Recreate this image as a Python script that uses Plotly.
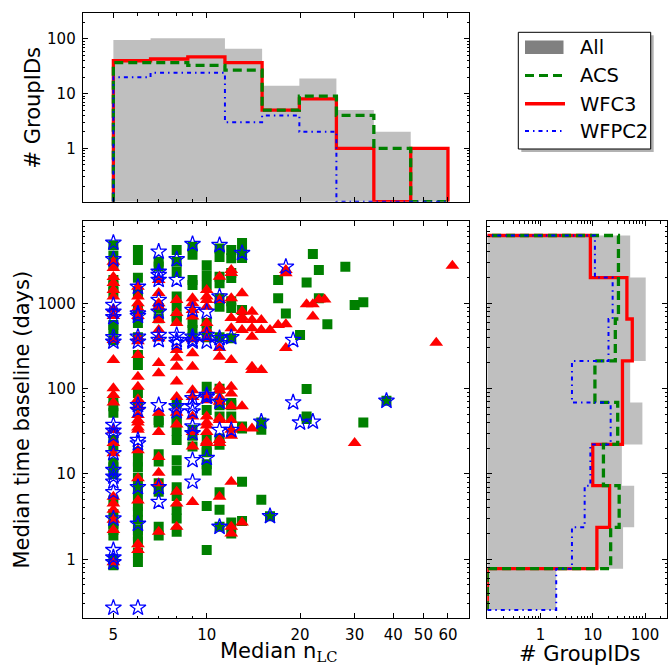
import plotly.graph_objects as go

# ---------------- data ----------------
acs_nlc = [5]*24 + [6]*25 + [7]*12 + [8]*19 + [9]*10 + [10]*16 + [11]*16 + [12]*12 + [13]*8 + \
    [15, 15, 15, 16, 17, 17, 18, 20, 21, 21, 21, 21, 22, 23, 23, 24.5, 28, 30, 32, 32, 38]
acs_days = [4800, 3600, 2800, 1880, 1600, 1360, 557, 486, 370, 73, 62, 52, 25, 21, 13.5, 12, 10, 4.9, 3.4, 2.6, 2.2, 1.9, 1.0, 0.85,
            4220, 3220, 2000, 1350, 835, 590, 400, 248, 189, 89, 62, 18, 14, 12, 9, 7, 5.5, 4.2, 3.6, 2.9, 2.2, 1.9, 1.6, 1.2, 0.93,
            3070, 2700, 880, 670, 43, 40, 17, 14, 7.8, 6.2, 2.4, 1.9,
            4220, 3070, 2330, 1200, 920, 700, 637, 68, 43, 41, 32, 25, 14.5, 11, 7, 5.5, 3.8, 3.0, 2.1,
            4600, 3700, 1880, 1640, 590, 486, 400, 33, 28, 21,
            2800, 2140, 1640, 590, 486, 400, 105, 80, 56, 25, 19, 18, 13, 11, 4.2, 1.28,
            4400, 3500, 2050, 1720, 1150, 910, 400, 100, 68, 64, 47, 26, 22, 6.1, 3.8, 2.4,
            4220, 3380, 2270, 1980, 1060, 880, 390, 68, 64, 47, 2.7, 2.0,
            5100, 4000, 3400, 835, 36, 34, 8.1, 2.8,
            40, 33, 5.0, 3.2, 1880, 1150, 760, 425, 1750, 99, 47, 44, 3780, 2460, 1150, 570, 2680, 955, 1030, 40, 72]

wfc3_nlc = [5]*22 + [6]*22 + [7]*15 + [8]*13 + [9]*13 + [10]*15 + [11]*13 + [12]*15 + [13]*8 + [14]*7 + \
    [15, 15, 15, 16, 17, 18, 18, 18, 18, 21, 22, 22, 23, 24, 30, 55, 62]
wfc3_days = [3070, 2600, 2030, 1730, 1430, 1200, 850, 710, 371, 217, 101, 84, 69, 32.7, 23, 17.5, 5.4, 4.5, 3.8, 2.9, 2.2, 0.92,
             1560, 1200, 1000, 880, 710, 400, 360, 248, 138, 105, 75, 62, 49, 43, 40, 35, 33, 19, 8.9, 4.9, 1.5, 1.28,
             1880, 1320, 1000, 910, 637, 486, 390, 200, 152, 52, 31, 15.8, 10.3, 7.8, 2.1,
             1094, 770, 587, 284, 230, 180, 121, 80, 52, 38, 6.2, 4.5, 2.4,
             1150, 1000, 835, 700, 380, 260, 180, 96, 80, 47, 31, 21, 4.7,
             1430, 1200, 1094, 910, 590, 486, 390, 84, 73, 47, 40, 37, 31, 24, 23,
             2050, 1094, 300, 237, 105, 96, 80, 70, 45, 43, 25, 23, 5.4,
             2460, 2270, 1150, 673, 510, 216, 105, 88, 62, 43, 33, 28, 8.1, 2.4, 2.0,
             1310, 810, 690, 637, 486, 62, 34.6, 2.7,
             797, 637, 510, 405, 180, 165, 34,
             637, 486, 165, 486, 557, 2460, 2250, 570, 300, 974, 974, 700, 1110, 1110, 23, 345, 2760]

wfpc2_nlc = [5]*20 + [6]*12 + [7]*11 + [8]*7 + [9]*12 + [10]*6 + [11]*7 + \
    [12, 12, 13, 15, 16, 18, 19, 19, 20, 22, 38]
wfpc2_days = [5130, 3280, 955, 797, 685, 400, 355, 37.5, 32, 28, 17.5, 11.1, 9.3, 8.1, 6.1, 3.0, 1.28, 1.05, 0.92, 0.27,
              1560, 760, 710, 405, 355, 64, 56, 25, 22.8, 7.0, 2.6, 0.27,
              4030, 2340, 2150, 1880, 1094, 797, 425, 371, 64, 7.0, 4.7,
              3280, 1880, 425, 371, 343, 62, 54,
              4960, 835, 405, 370, 355, 77, 62, 54, 36, 30, 14.5, 8.1,
              797, 425, 355, 84, 80, 15.4,
              4820, 1200, 390, 340, 70, 32.7, 2.4,
              400, 32.7, 3880, 41, 3.2, 2680, 371, 69, 40, 41, 72]

# top histogram (Median n_LC bins)
nlc_edges = [5, 6.59, 8.69, 11.45, 15.09, 19.9, 26.2, 34.6, 45.5, 60.0]
top_all = [96, 103, 103, 66, 14, 19, 5, 2, 1]
top_acs = [37, 37, 33, 27, 5, 9, 4, 1, 0]
top_wfc3 = [40, 43, 47, 37, 5, 8, 1, 0, 1]
top_wfpc2 = [20, 24, 24, 3, 4, 2, 0, 0, 0]

# right histogram (time baseline bins, days)
days_edges = [0.255, 0.776, 2.37, 7.28, 22.2, 69, 211, 655, 2005, 6240]
right_all = [2, 38, 62, 36, 89, 52, 103, 103, 52]
right_acs = [0, 22, 32, 16, 30, 11, 27, 31, 31]
right_wfc3 = [0, 12, 21, 10, 37, 37, 57, 45, 9]
right_wfpc2 = [2, 4, 7, 9, 22, 4, 20, 24, 11]

# ---------------- styling ----------------
W, H = 669, 666
FONT = "DejaVu Sans"
GREEN, RED, BLUE = "#008000", "#ff0000", "#0000ff"
FILL = "rgba(128,128,128,0.5)"
DASH_ACS = "9px,5px"
DASH_WFPC2 = "4px,4px,1.5px,4px"

def px_x(p):
    return p / W

def px_y(p):
    return 1 - p / H

TOP_FLOOR = 10 ** -0.977
RIGHT_FLOOR = 10 ** -1.017


def step_path(edges, counts, floor):
    xs, ys = [edges[0]], [floor]
    for i, c in enumerate(counts):
        v = c if c > 0 else floor
        xs += [edges[i], edges[i + 1]]
        ys += [v, v]
    xs.append(edges[-1])
    ys.append(floor)
    return xs, ys


fig = go.Figure()

# ---- top histogram ----
hx, hy = step_path(nlc_edges, top_all, TOP_FLOOR)
fig.add_trace(go.Scatter(x=hx, y=hy, mode="lines", fill="toself", fillcolor=FILL,
                         line=dict(width=0), xaxis="x2", yaxis="y2", showlegend=False, hoverinfo="skip"))
for counts, col, dash, w in [(top_wfc3, RED, "solid", 3.3), (top_acs, GREEN, DASH_ACS, 3.3), (top_wfpc2, BLUE, DASH_WFPC2, 2)]:
    sx, sy = step_path(nlc_edges, counts, TOP_FLOOR)
    fig.add_trace(go.Scatter(x=sx, y=sy, mode="lines", line=dict(color=col, width=w, dash=dash),
                             xaxis="x2", yaxis="y2", showlegend=False, hoverinfo="skip"))

# ---- right histogram ----
ry, rx = step_path(days_edges, right_all, RIGHT_FLOOR)
fig.add_trace(go.Scatter(x=rx, y=ry, mode="lines", fill="toself", fillcolor=FILL,
                         line=dict(width=0), xaxis="x3", yaxis="y3", showlegend=False, hoverinfo="skip"))
for counts, col, dash, w in [(right_wfc3, RED, "solid", 3.3), (right_acs, GREEN, DASH_ACS, 3.3), (right_wfpc2, BLUE, DASH_WFPC2, 2)]:
    sy, sx = step_path(days_edges, counts, RIGHT_FLOOR)
    fig.add_trace(go.Scatter(x=sx, y=sy, mode="lines", line=dict(color=col, width=w, dash=dash),
                             xaxis="x3", yaxis="y3", showlegend=False, hoverinfo="skip"))

# ---- scatter ----
fig.add_trace(go.Scatter(x=acs_nlc, y=acs_days, mode="markers", name="ACS",
                         marker=dict(symbol="square", size=10, color=GREEN, line=dict(width=0)),
                         xaxis="x", yaxis="y", showlegend=False))
fig.add_trace(go.Scatter(x=wfc3_nlc, y=wfc3_days, mode="markers", name="WFC3",
                         marker=dict(symbol="triangle-up", size=12, color=RED, line=dict(width=0)),
                         xaxis="x", yaxis="y", showlegend=False))
fig.add_trace(go.Scatter(x=wfpc2_nlc, y=wfpc2_days, mode="markers", name="WFPC2",
                         marker=dict(symbol="star-open", size=12, color=BLUE, line=dict(width=1.3, color=BLUE)),
                         xaxis="x", yaxis="y", showlegend=False))

# ---- axes ----
MAIN_XDOM = [px_x(82.7), px_x(469)]
MAIN_YDOM = [px_y(618.3), px_y(221)]
TOP_YDOM = [px_y(201.7), px_y(13.3)]
RIGHT_XDOM = [px_x(487.3), px_x(667)]

tickfont = dict(family=FONT, size=15, color="black")
nlc_major = [5, 10, 20, 30, 40, 50, 60]
nlc_minor = [6, 7, 8, 9]
dec_minor = [m * 10 ** k for k in range(-2, 5) for m in range(2, 10)]

common = dict(type="log", showline=True, linecolor="black", linewidth=1, mirror="ticks",
              ticks="inside", ticklen=5, tickwidth=1, tickcolor="black", showgrid=False,
              zeroline=False, tickfont=tickfont, ticklabelstandoff=3)
minor_nlc = dict(tickmode="array", tickvals=nlc_minor, ticks="inside", ticklen=2.5, tickcolor="black", showgrid=False)
minor_dec = dict(tickmode="array", tickvals=dec_minor, ticks="inside", ticklen=2.5, tickcolor="black", showgrid=False)

fig.update_layout(
    width=W, height=H, margin=dict(l=0, r=0, t=0, b=0),
    paper_bgcolor="white", plot_bgcolor="white", showlegend=False,
    xaxis=dict(common, domain=MAIN_XDOM, range=[0.600, 1.846], anchor="y",
               tickmode="array", tickvals=nlc_major, ticktext=[str(v) for v in nlc_major], minor=minor_nlc),
    yaxis=dict(common, domain=MAIN_YDOM, range=[-0.692, 3.965], anchor="x",
               tickmode="array", tickvals=[1, 10, 100, 1000], ticktext=["1", "10", "100", "1000"], minor=minor_dec),
    xaxis2=dict(common, domain=MAIN_XDOM, range=[0.600, 1.846], anchor="y2", showticklabels=False,
                tickmode="array", tickvals=nlc_major, minor=minor_nlc),
    yaxis2=dict(common, domain=TOP_YDOM, range=[-0.977, 2.47], anchor="x2",
                tickmode="array", tickvals=[1, 10, 100], ticktext=["1", "10", "100"], minor=minor_dec),
    xaxis3=dict(common, domain=RIGHT_XDOM, range=[-1.017, 2.42], anchor="y3",
                tickmode="array", tickvals=[1, 10, 100], ticktext=["1", "10", "100"], minor=minor_dec),
    yaxis3=dict(common, domain=MAIN_YDOM, range=[-0.692, 3.965], anchor="x3", showticklabels=False,
                tickmode="array", tickvals=[1, 10, 100, 1000], minor=minor_dec),
)

# ---- axis titles ----
tfont = dict(family=FONT, size=21, color="black")
ann = [
    dict(x=px_x(22), y=px_y(419.6), text="Median time baseline (days)", textangle=-90),
    dict(x=px_x(33), y=px_y(107.5), text="# GroupIDs", textangle=-90),
    dict(x=px_x(278), y=px_y(652),
         text="Median n<sub><span style=\"font-family:'DejaVu Serif'\">LC</span></sub>"),
    dict(x=px_x(580), y=px_y(653.5), text="# GroupIDs"),
]
for a in ann:
    fig.add_annotation(xref="paper", yref="paper", showarrow=False, font=tfont,
                       xanchor="center", yanchor="middle", **a)

# ---- legend (drawn manually) ----
LX0, LX1, LY0, LY1 = 518.3, 650.7, 32.3, 149
fig.add_shape(type="rect", xref="paper", yref="paper",
              x0=px_x(LX0 + 3), x1=px_x(LX1 + 3), y0=px_y(LY1 + 3), y1=px_y(LY0 + 3),
              fillcolor="rgba(0,0,0,0.3)", line=dict(width=0))
fig.add_shape(type="rect", xref="paper", yref="paper",
              x0=px_x(LX0), x1=px_x(LX1), y0=px_y(LY1), y1=px_y(LY0),
              fillcolor="white", line=dict(color="black", width=1))
fig.add_shape(type="rect", xref="paper", yref="paper",
              x0=px_x(525), x1=px_x(563.5), y0=px_y(54), y1=px_y(40.5),
              fillcolor="gray", line=dict(width=0))
for yy, col, dash, w in [(75.5, GREEN, DASH_ACS, 3), (103.7, RED, "solid", 3.5), (131, BLUE, DASH_WFPC2, 2.2)]:
    fig.add_shape(type="line", xref="paper", yref="paper",
                  x0=px_x(525), x1=px_x(565), y0=px_y(yy), y1=px_y(yy),
                  line=dict(color=col, width=w, dash=dash))
for yy, txt in [(47, "All"), (76, "ACS"), (104, "WFC3"), (131.5, "WFPC2")]:
    fig.add_annotation(xref="paper", yref="paper", x=px_x(578), y=px_y(yy), text=txt,
                       showarrow=False, xanchor="left", yanchor="middle",
                       font=dict(family=FONT, size=19.5, color="black"))

fig.write_html("out.html", config={"displayModeBar": False},
               post_script="document.body.style.margin='0';document.body.style.overflow='hidden';")
